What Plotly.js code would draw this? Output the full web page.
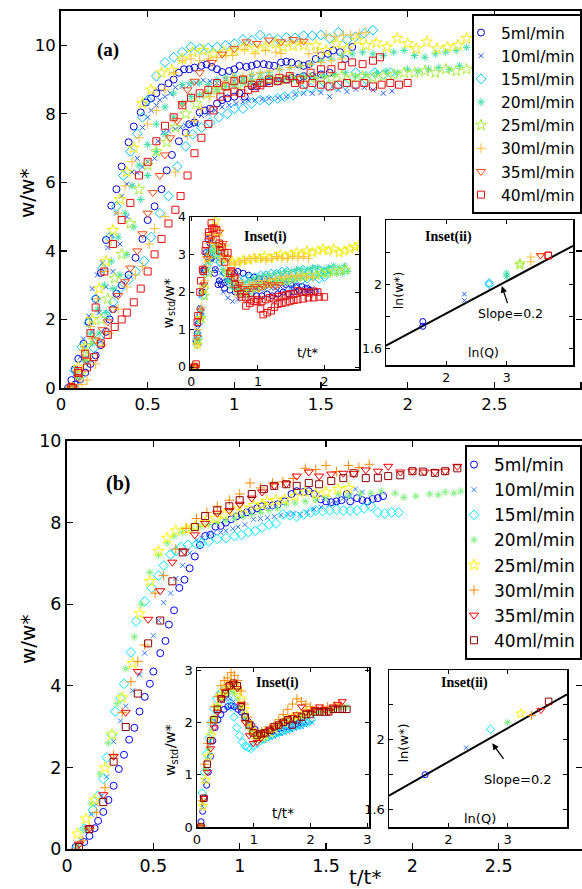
<!DOCTYPE html>
<html><head><meta charset="utf-8">
<script src="https://cdn.plot.ly/plotly-3.0.1.min.js"></script>
<style>html,body{margin:0;padding:0;background:#fff}#c{width:582px;height:889px}</style>
</head><body><div id="c"></div>
<script>
// ---------- categories ----------
const flowLabels = ['5ml/min','10ml/min','15ml/min','20ml/min','25ml/min','30ml/min','35ml/min','40ml/min'];
const lnQ = [1.61, 2.30, 2.71, 3.00, 3.22, 3.40, 3.56, 3.69];

// ---------- panel (a) main: t/t*, w/w* ----------
const a5_t = [0.04,0.06,0.08,0.10,0.13,0.16,0.20,0.23,0.26,0.29,0.32,0.35,0.39,0.42,0.46,0.49,0.52,0.55,0.58,0.62,0.65,0.68,0.71,0.74,0.77,0.81,0.84,0.87,0.90,0.93,0.97,1.00,1.03,1.07,1.10,1.13,1.17,1.20,1.23,1.27,1.30,1.33,1.37,1.40,1.43,1.47,1.50,1.54,1.57,1.61,1.64,1.68,
  0.05,0.08,0.11,0.14,0.17,0.20,0.23,0.26,0.28,0.30,0.32,0.35,0.39,0.43,0.47,0.50,0.54,0.58,0.61,0.64,0.68,0.72,0.74,0.77,0.80,0.83,0.86,0.90,0.93,0.96,1.00,1.03,1.06,1.10,1.13,1.17,1.20,1.25,1.30,1.33,1.37,1.40,1.45,1.50,1.55];
const a5_w = [0,0.23,0.55,0.85,1.29,1.93,2.6,3.36,4.32,5.32,5.8,6.46,7.17,7.63,8.04,8.33,8.45,8.6,8.77,8.89,9.0,9.2,9.3,9.3,9.35,9.4,9.44,9.37,9.3,9.22,9.25,9.3,9.4,9.37,9.4,9.45,9.45,9.42,9.4,9.5,9.52,9.5,9.45,9.4,9.45,9.6,9.7,9.75,9.85,9.8,9.6,9.95,
  0,0.1,0.25,0.45,0.7,0.95,1.25,1.64,2.0,2.3,2.75,3.0,3.3,3.8,4.35,4.9,5.3,5.8,6.35,6.8,7.2,7.45,7.7,7.75,8.04,8.1,8.15,8.3,8.4,8.45,8.5,8.6,8.5,8.8,8.8,8.9,8.95,8.95,9.0,9.05,9.05,9.1,9.1,9.15,9.2];
const a10_t = [0.05,0.08,0.11,0.13,0.16,0.18,0.21,0.24,0.27,0.29,0.32,0.35,0.38,0.41,0.44,0.47,0.50,0.52,0.55,0.57,0.60,0.63,0.66,0.70,0.74,0.78,0.82,0.86,0.90,0.95,1.00,1.05,1.10,1.15,1.20,1.25,1.30,1.35,1.40,1.45,1.50,
  0.06,0.10,0.14,0.18,0.22,0.26,0.30,0.34,0.38,0.41,0.44,0.47,0.50,0.54,0.56,0.59,0.62,0.66,0.69,0.72,0.75,0.78,0.81,0.85,0.89,0.93,0.97,1.01,1.05,1.08,1.12,1.16,1.20,1.25,1.30,1.35,1.40,1.45,1.50,1.55,1.60,1.65,1.70,1.75,1.80,1.86,1.91];
const a10_w = [0,0.4,0.9,1.43,2.1,2.9,3.3,3.65,4.1,4.44,5.1,5.6,5.95,6.3,6.7,7.6,7.9,8.1,8.25,8.4,8.5,8.6,8.77,8.8,8.85,8.9,8.98,8.95,8.9,9.0,8.95,9.0,9.05,9.0,9.05,9.0,9.05,9.1,9.05,9.1,9.1,
  0,0.3,0.8,1.64,2.2,2.95,3.4,4.2,5.0,5.9,6.28,6.45,6.6,6.7,7.2,7.46,7.5,7.55,7.6,7.65,7.7,7.7,7.95,8.0,8.1,8.2,8.25,8.3,8.35,8.4,8.4,8.42,8.45,8.46,8.5,8.56,8.6,8.6,8.62,8.5,8.7,8.65,8.72,8.77,8.7,8.6,8.66];
const a15_t = [0.05,0.08,0.12,0.16,0.20,0.24,0.28,0.32,0.36,0.40,0.44,0.47,0.50,0.55,0.60,0.65,0.70,0.75,0.80,0.85,0.90,0.95,1.00,1.05,1.10,1.15,1.20,1.25,1.30,1.35,1.40,1.45,1.50,1.55,1.60,1.65,1.70,1.75,1.80,
  0.06,0.10,0.15,0.19,0.22,0.26,0.30,0.34,0.39,0.43,0.48,0.52,0.57,0.62,0.67,0.72,0.76,0.81,0.86,0.91,0.96,1.00,1.05,1.10,1.15,1.20,1.25,1.29,1.34,1.39,1.44,1.49,1.54,1.59,1.64,1.70,1.76,1.81,1.86,1.90];
const a15_w = [0,0.5,1.2,1.9,2.6,3.5,4.4,5.3,6.2,6.9,7.42,7.9,8.4,9.1,9.5,9.65,9.8,9.95,9.9,9.92,9.95,10.0,10.05,10.17,10.15,10.3,10.2,10.18,10.23,10.22,10.28,10.28,10.3,10.2,10.38,10.15,10.25,10.35,10.44,
  0,0.4,0.8,1.17,1.46,2.13,2.5,2.9,3.16,3.4,3.7,4.4,5.1,5.6,6.46,7.05,7.4,7.6,7.75,7.9,8.0,8.15,8.15,8.3,8.4,8.4,8.45,8.5,8.55,8.7,8.75,8.78,8.8,8.8,8.85,9.2,9.0,9.2,9.15,9.2];
const a20_t = [0.05,0.09,0.13,0.17,0.21,0.25,0.29,0.33,0.37,0.41,0.45,0.50,0.55,0.60,0.65,0.70,0.75,0.80,0.85,0.90,0.95,1.00,1.05,1.10,1.15,1.20,1.26,1.32,1.38,1.44,1.50,1.56,1.62,1.68,1.74,1.80,1.86,1.92,1.98,2.04,2.10,2.16,2.22,2.28,2.34,
  0.06,0.10,0.14,0.18,0.22,0.26,0.30,0.34,0.38,0.42,0.46,0.50,0.55,0.60,0.65,0.70,0.75,0.80,0.85,0.90,0.95,1.00,1.05,1.10,1.16,1.22,1.28,1.34,1.40,1.46,1.52,1.58,1.64,1.70,1.76,1.82,1.88,1.94,2.00,2.06,2.12,2.18,2.24,2.30];
const a20_w = [0,0.5,1.1,1.6,2.3,3.0,3.7,4.4,5.1,5.9,6.5,7.1,7.7,8.2,8.6,8.86,8.9,8.9,8.85,9.0,9.05,9.1,9.05,9.15,9.17,9.2,9.3,9.35,9.4,9.45,9.55,9.6,9.7,9.75,9.8,9.75,9.7,9.8,9.85,9.7,9.65,9.75,9.8,9.85,9.94,
  0,0.3,0.8,1.3,1.6,2.2,2.9,3.3,3.9,4.7,5.5,6.2,6.9,7.4,7.9,8.3,8.5,8.55,8.6,8.7,8.8,8.85,8.9,8.95,9.0,9.05,9.0,9.05,9.1,9.05,9.1,9.15,9.2,9.1,9.15,9.2,9.25,9.2,9.3,9.25,9.3,9.35,9.3,9.4];
const a25y_t = [0.06,0.10,0.14,0.18,0.22,0.26,0.30,0.34,0.38,0.42,0.47,0.52,0.58,0.64,0.70,0.76,0.82,0.88,0.94,1.00,1.06,1.12,1.18,1.24,1.28,1.34,1.40,1.47,1.53,1.59,1.65,1.71,1.76,1.82,1.88,1.94,2.00,2.05,2.11,2.17,2.23,2.29,2.34];
const a25y_w = [0,0.6,1.2,2.0,2.9,3.7,4.6,5.5,6.3,7.0,8.3,8.7,9.2,9.27,9.6,9.8,9.85,9.75,9.8,9.85,9.95,9.9,9.95,10.05,9.95,9.98,10.0,10.0,9.85,10.05,9.9,10.15,10.0,10.07,9.95,10.2,10.05,9.9,10.1,9.9,9.95,10.0,10.2];
const a25g_t = [0.07,0.11,0.15,0.19,0.23,0.27,0.31,0.35,0.40,0.45,0.50,0.55,0.61,0.66,0.72,0.78,0.84,0.90,0.96,1.02,1.08,1.14,1.20,1.26,1.32,1.38,1.44,1.50,1.56,1.62,1.68,1.74,1.80,1.86,1.92,1.98,2.04,2.10,2.16,2.22,2.28,2.34];
const a25g_w = [0,0.4,0.9,1.4,2.0,2.6,3.2,3.9,4.8,5.8,6.5,6.9,7.17,7.6,8.0,8.3,8.56,8.7,8.8,8.85,8.9,8.95,9.0,9.0,9.05,9.0,9.05,9.0,9.05,9.1,9.05,9.1,9.05,9.1,9.15,9.2,9.2,9.25,9.2,9.3,9.25,9.3];
const a30_t = [0.05,0.09,0.13,0.17,0.21,0.25,0.29,0.33,0.37,0.41,0.45,0.50,0.55,0.60,0.65,0.70,0.75,0.80,0.85,0.90,0.95,0.99,1.06,1.12,1.18,1.24,1.27,1.32,1.38,1.43,1.48,1.53,1.58,1.63,1.67,1.72,1.76,
  0.08,0.12,0.15,0.20,0.24,0.28,0.33,0.38,0.43,0.47,0.51,0.54,0.60,0.66,0.73,0.77,0.81,0.86,0.90,0.95,0.99,1.05,1.10,1.15,1.20,1.26,1.32,1.38,1.44,1.50,1.56,1.62];
const a30_w = [0,0.5,1.1,1.8,2.6,3.4,4.3,5.1,5.9,6.6,7.3,7.7,8.1,8.7,9.2,9.56,9.6,9.55,9.6,9.65,9.7,9.7,9.88,9.75,9.85,9.8,9.76,10.1,10.1,9.75,9.8,10.3,10.25,10.3,10.3,10.35,10.38,
  0,0.1,0.23,0.7,1.25,1.6,2.3,2.95,3.3,3.55,4.2,4.65,5.0,6.3,7.37,7.8,8.15,8.5,8.8,8.95,9.07,9.1,9.15,9.2,9.25,9.3,9.35,9.4,9.45,9.5,9.55,9.6];
const a35_t = [0.06,0.10,0.15,0.20,0.24,0.27,0.30,0.33,0.37,0.40,0.44,0.47,0.50,0.53,0.57,0.60,0.63,0.67,0.70,0.73,0.77,0.80,0.87,0.93,1.00,1.07,1.13,1.20,1.27,1.34,1.40];
const a35_w = [0,0.3,0.8,1.4,1.7,1.93,2.3,2.7,3.1,3.5,4.0,4.5,5.1,5.7,6.2,6.8,7.3,7.8,8.3,8.7,8.95,9.2,9.5,9.74,9.9,10.1,10.05,10.15,10.1,10.17,10.12];
const a40_t = [0.06,0.10,0.14,0.17,0.20,0.25,0.30,0.35,0.40,0.45,0.50,0.55,0.60,0.65,0.70,0.75,0.80,0.85,0.90,0.95,1.00,1.05,1.10,1.15,1.20,1.26,1.32,1.38,1.44,1.50,1.56,1.62,1.68,1.74,1.80,1.84,
  0.07,0.10,0.15,0.19,0.23,0.27,0.31,0.35,0.38,0.42,0.46,0.50,0.54,0.58,0.62,0.66,0.69,0.73,0.77,0.81,0.85,0.88,0.92,0.96,1.00,1.04,1.08,1.12,1.15,1.20,1.25,1.30,1.35,1.40,1.45,1.50,1.55,1.60,1.65,1.70,1.75,1.80,1.85,1.90,1.95,2.00];
const a40_w = [0.03,0.5,1.0,1.6,2.35,3.4,4.2,4.9,5.4,6.2,6.6,7.2,7.65,7.9,8.25,8.47,8.6,8.7,8.9,8.8,8.95,9.0,8.85,8.9,9.0,9.05,9.1,9.0,9.2,9.3,9.3,9.4,9.5,9.45,9.55,9.65,
  0,0.44,0.6,0.9,1.3,1.55,1.78,2.0,2.2,2.5,2.9,3.4,3.9,4.35,4.8,5.2,5.6,6.2,6.85,7.3,7.7,8.1,8.5,8.6,8.65,8.6,8.7,8.75,8.83,8.9,8.95,9.0,8.9,8.85,8.9,8.85,8.8,8.85,8.9,8.85,8.9,8.8,8.85,8.9,8.85,8.9];

// ---------- panel (a) inset (i): t/t*, w_std/w* ----------
const ai5_t = [0.04,0.07,0.10,0.13,0.16,0.19,0.22,0.25,0.28,0.31,0.35,0.40,0.45,0.50,0.55,0.60,0.65,0.70,0.78,0.86,0.94,1.02,1.10,1.18,1.26,1.34,1.42,1.50,1.58,1.66,1.74,
  0.05,0.09,0.13,0.17,0.21,0.25,0.30,0.36,0.42,0.50,0.58,0.66,0.74,0.82,0.90,0.98,1.06,1.14,1.22,1.30,1.38,1.46,1.54,1.62,1.70,1.78,1.86];
const ai5_w = [0,0.7,1.15,1.55,2.0,2.6,3.05,3.4,3.3,3.0,2.5,2.2,2.2,2.25,2.3,2.4,2.5,2.55,2.5,2.45,2.4,2.35,2.35,2.3,2.25,2.25,2.2,2.2,2.15,2.15,2.1,
  0,0.9,1.4,2.0,2.6,3.0,2.9,2.6,2.3,2.1,2.05,2.0,2.0,1.95,1.95,1.9,1.9,1.95,1.9,1.95,2.0,1.95,2.0,2.05,2.0,2.05,2.0];
const ai10_t = [0.05,0.09,0.13,0.17,0.21,0.26,0.31,0.36,0.42,0.48,0.55,0.62,0.70,0.78,0.86,0.94,1.02,1.10,1.18,1.26,1.34,1.42,1.50,1.58,1.66,1.74,1.82,1.90,
  0.06,0.10,0.14,0.19,0.24,0.30,0.37,0.45,0.53,0.61,0.70,0.80,0.90,1.00,1.10,1.20,1.30,1.40,1.50,1.60,1.70,1.80];
const ai10_w = [0,1.0,1.6,2.2,2.7,2.9,2.85,2.6,2.3,2.0,1.85,1.75,1.8,1.9,2.0,2.05,2.1,2.1,2.15,2.1,2.15,2.2,2.15,2.2,2.1,2.15,2.1,2.05,
  0,1.2,1.9,2.5,2.9,3.1,2.9,2.5,2.3,2.2,2.15,2.1,2.1,2.1,2.05,2.1,2.05,2.05,2.1,2.0,2.0,2.05];
const ai15_t = [0.05,0.09,0.13,0.17,0.21,0.26,0.31,0.37,0.43,0.50,0.57,0.64,0.72,0.80,0.88,0.96,1.04,1.12,1.20,1.28,1.36,1.44,1.52,1.60,1.68,1.76,1.84,1.92,2.00,2.08,
  0.06,0.10,0.14,0.19,0.24,0.30,0.36,0.43,0.50,0.58,0.66,0.75,0.84,0.93,1.02,1.11,1.20,1.29,1.38,1.47,1.56,1.65,1.74,1.83,1.92,2.00];
const ai15_w = [0,0.6,1.2,1.9,2.5,3.0,3.2,3.0,2.8,2.5,2.3,2.25,2.3,2.35,2.4,2.4,2.45,2.45,2.5,2.5,2.55,2.55,2.5,2.55,2.6,2.55,2.6,2.6,2.55,2.6,
  0,0.8,1.4,2.1,2.7,3.1,3.1,2.8,2.5,2.2,2.1,2.1,2.15,2.2,2.25,2.25,2.3,2.3,2.35,2.3,2.35,2.3,2.35,2.4,2.35,2.4];
const ai20_t = [0.05,0.09,0.13,0.18,0.23,0.28,0.34,0.40,0.47,0.54,0.62,0.70,0.78,0.86,0.94,1.02,1.10,1.18,1.26,1.34,1.42,1.50,1.58,1.66,1.74,1.82,1.90,1.98,2.06,2.14,2.22,2.30,
  0.06,0.10,0.15,0.20,0.26,0.33,0.40,0.48,0.56,0.65,0.74,0.83,0.92,1.01,1.10,1.19,1.28,1.37,1.46,1.55,1.64,1.73,1.82,1.91,2.00,2.09,2.18,2.27,2.35];
const ai20_w = [0,0.7,1.3,2.0,2.6,3.1,3.3,3.1,2.8,2.5,2.3,2.2,2.25,2.3,2.35,2.4,2.45,2.45,2.5,2.5,2.55,2.55,2.6,2.6,2.6,2.65,2.65,2.6,2.65,2.7,2.65,2.7,
  0,0.9,1.5,2.2,2.8,3.2,3.0,2.6,2.3,2.1,2.05,2.1,2.15,2.2,2.2,2.25,2.3,2.3,2.35,2.35,2.4,2.4,2.4,2.45,2.45,2.5,2.5,2.5,2.55];
const ai25y_t = [0.05,0.09,0.14,0.19,0.24,0.30,0.36,0.42,0.48,0.55,0.62,0.70,0.78,0.86,0.94,1.02,1.10,1.18,1.26,1.34,1.42,1.50,1.58,1.66,1.74,1.82,1.90,1.98,2.06,2.14,2.22,2.30,2.38,2.46,2.52];
const ai25y_w = [0,0.6,1.3,2.1,2.9,3.5,3.9,3.6,3.2,2.9,2.8,2.8,2.85,2.85,2.9,2.9,2.95,2.9,2.95,3.0,2.95,3.0,3.05,3.0,3.1,3.05,3.1,3.15,3.1,3.15,3.05,3.1,3.15,3.2,3.25];
const ai25g_t = [0.06,0.10,0.15,0.20,0.26,0.32,0.39,0.46,0.54,0.62,0.70,0.79,0.88,0.97,1.06,1.15,1.24,1.33,1.42,1.51,1.60,1.69,1.78,1.87,1.96,2.05,2.14,2.23,2.32];
const ai25g_w = [0,0.7,1.3,1.9,2.5,3.0,3.2,2.9,2.5,2.2,2.0,1.95,2.0,2.1,2.15,2.2,2.25,2.3,2.3,2.35,2.4,2.4,2.45,2.45,2.5,2.5,2.55,2.55,2.6];
const ai30_t = [0.05,0.09,0.13,0.17,0.22,0.27,0.32,0.38,0.44,0.50,0.57,0.64,0.72,0.80,0.88,0.96,1.04,1.12,1.20,1.28,1.36,1.44,1.52,1.60,1.68,1.76,
  0.06,0.10,0.15,0.20,0.26,0.32,0.39,0.46,0.54,0.62,0.70,0.78,0.86,0.94,1.02,1.10,1.18,1.26,1.34,1.42,1.50,1.58,1.66,1.74,1.82];
const ai30_w = [0,0.6,1.3,2.0,2.7,3.3,3.7,3.5,3.2,3.0,2.8,2.75,2.8,2.85,2.9,2.9,2.9,2.85,2.9,2.95,2.9,2.9,2.95,2.9,2.95,2.9,
  0,1.0,1.6,2.3,2.9,3.3,3.2,2.9,2.6,2.4,2.3,2.2,2.2,2.25,2.3,2.3,2.35,2.35,2.4,2.4,2.45,2.4,2.45,2.4,2.4];
const ai35_t = [0.05,0.09,0.14,0.19,0.24,0.30,0.36,0.42,0.48,0.54,0.60,0.66,0.72,0.78,0.84,0.90,0.96,1.02,1.08,1.14,1.20,1.26,1.32];
const ai35_w = [0,0.8,1.5,2.2,2.9,3.4,3.7,3.6,3.3,2.9,2.6,2.4,2.2,2.1,2.05,2.1,2.15,2.1,2.15,2.2,2.2,2.15,2.2];
const ai40_t = [0.04,0.07,0.10,0.14,0.18,0.22,0.26,0.30,0.34,0.38,0.42,0.46,0.50,0.55,0.60,0.65,0.70,0.76,0.82,0.88,0.94,1.00,1.06,1.12,1.18,1.24,1.30,1.36,1.42,1.48,1.54,1.60,1.66,1.72,1.78,1.84,1.90,
  0.05,0.09,0.13,0.17,0.21,0.26,0.31,0.37,0.43,0.50,0.58,0.66,0.74,0.82,0.90,0.98,1.04,1.08,1.14,1.20,1.25,1.30,1.36,1.42,1.48,1.54,1.60,1.68,1.76,1.84,1.92,2.00];
const ai40_w = [0,0.08,1.37,2.3,2.55,3.26,3.6,3.84,3.7,3.66,3.3,3.2,3.05,3.05,2.55,2.39,2.1,1.87,1.63,1.7,1.75,1.8,1.75,1.8,1.85,1.82,1.88,1.9,1.92,1.95,1.95,2.03,2.0,2.0,1.98,2.02,2.0,
  0,1.2,2.0,2.6,3.1,3.5,3.7,3.4,3.1,2.8,2.5,2.2,1.95,1.85,1.8,1.75,1.55,1.4,1.45,1.5,1.6,1.68,1.7,1.72,1.75,1.78,1.8,1.82,1.85,1.85,1.87,1.87];

// ---------- panel (a) inset (ii): ln(Q), ln(w*) (two runs) ----------
const aii_lnw = [[1.77,1.74],[1.94,1.90],[2.01,2.00],[2.07,2.05],[2.13,2.12],[2.17,2.14],[2.18,2.18],[2.18,2.18]];
const aiiFit_x = [1.0, 4.1];
const aiiFit_y = [1.62, 2.24];

// ---------- panel (b) main ----------
const b5_t = [0.05,0.10,0.13,0.16,0.18,0.21,0.24,0.27,0.30,0.33,0.36,0.39,0.42,0.45,0.48,0.50,0.54,0.57,0.59,0.62,0.65,0.68,0.71,0.74,0.77,0.80,0.83,0.86,0.89,0.92,0.95,0.98,1.01,1.04,1.07,1.10,1.13,1.16,1.19,1.22,1.26,1.30,1.33,1.37,1.40,1.43,1.47,1.50,1.53,1.56,1.59,1.62,1.64,1.68,1.71,1.74,1.77,1.80,1.83];
const b5_w = [0.05,0.17,0.32,0.51,0.69,0.91,1.2,1.55,1.96,2.31,2.68,2.97,3.37,3.73,4.05,4.35,4.8,5.1,5.5,5.85,6.4,6.6,6.88,7.17,7.45,7.67,7.7,7.9,7.92,8.0,8.08,8.15,8.2,8.25,8.3,8.35,8.4,8.42,8.42,8.45,8.52,8.7,8.77,8.75,8.77,8.7,8.57,8.52,8.5,8.52,8.55,8.7,8.52,8.6,8.55,8.52,8.58,8.6,8.65];
const b10_t = [0.05,0.08,0.11,0.14,0.17,0.20,0.23,0.27,0.31,0.34,0.38,0.42,0.45,0.50,0.53,0.56,0.60,0.63,0.67,0.71,0.75,0.78,0.82,0.85,0.89,0.92,0.96,0.99,1.03,1.08,1.12,1.16,1.20,1.24,1.28,1.31,1.35,1.39,1.43,1.47,1.52,1.56,1.60,1.64,1.67,1.71];
const b10_w = [0,0.22,0.5,0.85,1.1,1.3,1.77,2.63,3.14,3.5,3.88,4.27,4.8,5.23,5.6,6.04,6.27,6.63,6.95,7.25,7.57,7.62,7.72,7.75,7.76,7.8,7.85,7.89,7.95,8.08,8.1,8.12,8.15,8.18,8.2,8.23,8.2,8.25,8.33,8.38,8.45,8.5,8.6,8.65,8.82,8.75];
const b15_t = [0.05,0.10,0.15,0.18,0.21,0.23,0.26,0.28,0.31,0.33,0.37,0.40,0.45,0.49,0.53,0.56,0.60,0.63,0.66,0.70,0.75,0.78,0.82,0.87,0.92,0.97,1.01,1.05,1.09,1.13,1.17,1.21,1.25,1.29,1.33,1.37,1.41,1.44,1.48,1.52,1.56,1.60,1.64,1.68,1.72,1.76,1.80,1.84,1.88,1.92];
const b15_w = [0,0.5,0.96,1.3,1.72,2.24,2.8,3.37,3.7,4.05,4.82,5.58,6.07,6.4,6.7,6.95,7.22,7.3,7.4,7.45,7.47,7.5,7.54,7.6,7.62,7.67,7.7,7.77,7.8,7.88,7.95,7.98,8.2,8.18,8.15,8.2,8.25,8.3,8.28,8.3,8.32,8.3,8.3,8.3,8.35,8.4,8.25,8.22,8.25,8.25];
const b20_t = [0.06,0.10,0.14,0.19,0.24,0.29,0.34,0.39,0.43,0.48,0.53,0.58,0.62,0.67,0.72,0.77,0.82,0.87,0.92,0.97,1.02,1.07,1.12,1.17,1.22,1.27,1.32,1.38,1.44,1.50,1.57,1.63,1.70,1.76,1.82,1.90,1.95,2.02,2.10,2.15,2.19,2.24,2.28];
const b20_w = [0.1,0.5,1.1,1.84,2.6,3.56,4.42,5.2,6.0,6.78,7.2,7.5,7.67,7.76,7.85,7.9,7.95,8.0,8.05,8.1,8.15,8.2,8.25,8.3,8.35,8.45,8.48,8.52,8.55,8.6,8.7,8.65,8.7,8.72,8.77,8.72,8.62,8.65,8.7,8.68,8.75,8.72,8.77];
const b25_t = [0.06,0.11,0.16,0.22,0.26,0.32,0.38,0.42,0.48,0.53,0.58,0.63,0.69,0.74,0.80,0.86,0.91,0.97,1.02,1.08,1.13,1.16,1.21,1.26,1.32,1.38,1.44,1.50,1.57,1.63];
const b25_w = [0.37,0.74,1.2,1.99,2.8,3.71,4.55,5.77,6.56,7.3,7.62,7.8,7.84,7.9,8.0,8.1,8.2,8.28,8.35,8.42,8.45,8.52,8.55,8.57,8.65,8.75,8.7,8.75,8.82,8.84];
const b30_t = [0.05,0.09,0.13,0.17,0.22,0.27,0.32,0.37,0.41,0.45,0.51,0.56,0.63,0.69,0.75,0.81,0.87,0.94,1.00,1.06,1.12,1.19,1.25,1.31,1.38,1.44,1.50,1.56,1.63,1.69,1.75];
const b30_w = [0,0.2,0.5,0.9,1.5,2.3,3.35,4.1,4.6,5.0,6.27,6.7,7.35,7.86,8.1,8.25,8.4,8.55,8.7,8.97,8.85,8.97,9.0,9.08,9.33,9.3,9.4,9.25,9.4,9.35,9.43];
const b35_t = [0.07,0.13,0.21,0.27,0.34,0.41,0.47,0.54,0.61,0.68,0.74,0.80,0.87,0.94,1.00,1.07,1.13,1.20,1.27,1.33,1.40,1.46,1.53,1.60,1.66,1.73,1.80,1.86,1.93,2.00,2.07,2.13,2.19,2.26];
const b35_w = [0.12,0.51,1.33,2.27,3.35,4.35,5.63,6.33,7.03,7.3,7.7,7.98,8.23,8.3,8.45,8.6,8.75,8.9,8.95,9.14,9.24,9.14,9.19,9.21,9.2,9.29,9.26,9.38,9.24,9.26,9.24,9.24,9.26,9.38];
const b40_t = [0.07,0.13,0.21,0.27,0.34,0.41,0.47,0.54,0.61,0.67,0.74,0.80,0.87,0.94,1.00,1.07,1.14,1.20,1.27,1.33,1.40,1.46,1.53,1.60,1.66,1.73,1.80,1.86,1.93,2.00,2.06,2.13,2.19,2.26];
const b40_w = [0.05,0.49,1.15,2.14,2.99,3.81,5.04,5.6,6.56,7.27,7.89,8.16,8.3,8.4,8.55,8.7,8.82,8.9,8.94,8.9,8.97,8.94,9.02,9.09,9.21,9.09,9.1,9.14,9.16,9.26,9.25,9.22,9.26,9.33];

// ---------- panel (b) inset (i) ----------
const bi5_t = [0.04,0.07,0.10,0.13,0.17,0.20,0.24,0.28,0.32,0.37,0.42,0.48,0.54,0.60,0.66,0.72,0.78,0.84,0.90,0.96,1.02,1.08,1.14,1.20,1.26,1.32,1.38,1.44,1.50,1.56,1.62,1.68,1.74,1.80,1.86];
const bi5_w = [0,0.1,0.3,0.55,0.8,1.05,1.35,1.65,1.9,2.05,2.15,2.25,2.3,2.32,2.3,2.25,2.2,2.12,2.02,1.95,1.87,1.8,1.78,1.78,1.8,1.82,1.85,1.88,1.9,1.92,1.92,1.95,1.97,2.0,2.0];
const bi10_t = [0.05,0.09,0.13,0.17,0.21,0.25,0.30,0.35,0.40,0.46,0.52,0.58,0.64,0.70,0.76,0.82,0.88,0.94,1.00,1.06,1.12,1.18,1.24,1.30,1.36,1.42,1.48,1.54,1.60,1.66,1.72,1.78,1.84,1.90,1.96,2.02];
const bi10_w = [0,0.4,0.9,1.3,1.6,1.85,2.05,2.2,2.3,2.4,2.45,2.45,2.4,2.3,2.2,2.05,1.9,1.8,1.72,1.68,1.65,1.65,1.68,1.7,1.72,1.75,1.78,1.8,1.82,1.85,1.88,1.9,1.92,1.95,1.97,2.0];
const bi15_t = [0.05,0.09,0.13,0.17,0.21,0.25,0.30,0.35,0.40,0.45,0.50,0.55,0.60,0.65,0.70,0.75,0.80,0.85,0.90,0.95,1.00,1.06,1.12,1.18,1.24,1.30,1.36,1.42,1.48,1.54,1.60,1.66,1.72,1.78,1.84,1.90,1.96,2.02];
const bi15_w = [0,0.65,1.05,1.4,1.7,2.0,2.25,2.45,2.55,2.6,2.55,2.45,2.3,2.1,1.9,1.75,1.62,1.55,1.52,1.5,1.55,1.6,1.65,1.68,1.72,1.75,1.78,1.8,1.82,1.85,1.88,1.9,1.92,1.95,1.95,2.0,2.0,2.05];
const bi20_t = [0.06,0.10,0.15,0.20,0.25,0.30,0.36,0.42,0.48,0.54,0.60,0.66,0.72,0.78,0.84,0.90,0.96,1.02,1.08,1.14,1.20,1.28,1.36,1.44,1.52,1.60,1.68,1.76,1.84,1.92,2.00,2.08,2.16,2.24,2.32,2.40,2.48,2.56,2.64];
const bi20_w = [0,0.5,1.1,1.5,1.85,2.1,2.3,2.45,2.55,2.6,2.6,2.55,2.45,2.3,2.1,1.95,1.82,1.75,1.72,1.75,1.8,1.85,1.9,1.95,2.0,2.05,2.08,2.1,2.12,2.15,2.18,2.2,2.2,2.22,2.25,2.25,2.28,2.3,2.3];
const bi25_t = [0.06,0.10,0.15,0.20,0.25,0.30,0.36,0.42,0.48,0.54,0.60,0.66,0.72,0.78,0.84,0.90,0.96,1.02,1.08,1.14,1.20,1.28,1.36,1.44,1.52,1.60,1.68,1.76,1.84,1.92,2.00];
const bi25_w = [0,0.4,0.9,1.35,1.75,2.05,2.3,2.5,2.6,2.7,2.75,2.7,2.6,2.45,2.25,2.0,1.85,1.75,1.7,1.72,1.75,1.8,1.88,1.95,2.0,2.05,2.1,2.12,2.15,2.2,2.2];
const bi30_t = [0.05,0.09,0.14,0.19,0.24,0.30,0.36,0.42,0.48,0.54,0.60,0.66,0.72,0.78,0.84,0.90,0.96,1.02,1.08,1.14,1.20,1.28,1.36,1.44,1.52,1.60,1.68,1.76,1.84,1.92,2.00,2.10,2.20,2.30,2.40,2.50];
const bi30_w = [0,0.5,1.2,1.6,2.0,2.3,2.5,2.7,2.8,2.85,2.95,2.9,2.8,2.6,2.35,2.1,1.95,1.85,1.8,1.82,1.85,1.9,1.95,2.05,2.15,2.25,2.35,2.45,2.4,2.35,2.3,2.25,2.25,2.3,2.3,2.35];
const bi35_t = [0.07,0.12,0.18,0.24,0.30,0.36,0.43,0.50,0.57,0.64,0.71,0.78,0.85,0.92,0.99,1.06,1.13,1.20,1.28,1.36,1.44,1.52,1.60,1.68,1.76,1.84,1.92,2.00,2.08,2.16,2.24,2.32,2.40,2.48,2.56];
const bi35_w = [0,0.55,1.05,1.5,1.9,2.2,2.45,2.6,2.7,2.75,2.65,2.35,2.0,1.75,1.6,1.62,1.7,1.78,1.85,1.9,1.95,2.0,2.05,2.1,2.15,2.3,2.2,2.2,2.25,2.3,2.25,2.2,2.3,2.35,2.4];
const bi40_t = [0.07,0.12,0.18,0.24,0.30,0.36,0.43,0.50,0.57,0.64,0.71,0.78,0.85,0.92,0.99,1.06,1.13,1.20,1.28,1.36,1.44,1.52,1.60,1.68,1.76,1.84,1.92,2.00,2.08,2.16,2.24,2.32,2.40,2.48,2.56,2.64];
const bi40_w = [0,0.55,1.2,1.65,2.05,2.25,2.45,2.55,2.7,2.75,2.7,2.3,2.1,1.95,1.8,1.75,1.78,1.8,1.85,1.92,1.95,2.0,2.05,1.95,2.05,2.1,2.15,2.15,2.2,2.2,2.2,2.2,2.25,2.25,2.25,2.25];

// ---------- panel (b) inset (ii) ----------
const bii_lnw = [1.80, 1.955, 2.06, 2.10, 2.15, 2.14, 2.17, 2.22];
const biiFit_x = [1.0, 4.0];
const biiFit_y = [1.68, 2.26];

// ---------- styles ----------
const symbols = ['circle-open','x-thin-open','diamond-open','asterisk-open','star-open','cross-thin-open','triangle-down-open','square-open'];
const sizesMain = [7,5,7.5,6.5,8.5,7,8,7];
const sizesIn = [6,4.5,6.5,6,7.5,6.5,7,6.5];
const colA = ['#0000d0','#1f5cff','#00c4ff','#3fe0a6','#a8ee3c','#ffbd3a','#ff4a14','#e01010'];
const colA25yellow = '#f0ee00';
const colB = ['#0000ff','#2f7bff','#00f0ff','#80f080','#ffff00','#ff8a00','#ff0000','#8b0000'];

function pts(x, y, xa, ya, i, col, sizes, name, leg, showleg) {
  return {type:'scatter', mode:'markers', x:x, y:y, xaxis:xa, yaxis:ya, name:name,
    legend:leg, showlegend:showleg, cliponaxis:true, hoverinfo:'skip',
    marker:{symbol:symbols[i], size:sizes[i], color:col, line:{color:col, width:1}}};
}

const aMainT = [a5_t,a10_t,a15_t,a20_t,a25g_t,a30_t,a35_t,a40_t];
const aMainW = [a5_w,a10_w,a15_w,a20_w,a25g_w,a30_w,a35_w,a40_w];
const aInT = [ai5_t,ai10_t,ai15_t,ai20_t,ai25g_t,ai30_t,ai35_t,ai40_t];
const aInW = [ai5_w,ai10_w,ai15_w,ai20_w,ai25g_w,ai30_w,ai35_w,ai40_w];
const bMainT = [b5_t,b10_t,b15_t,b20_t,b25_t,b30_t,b35_t,b40_t];
const bMainW = [b5_w,b10_w,b15_w,b20_w,b25_w,b30_w,b35_w,b40_w];
const bInT = [bi5_t,bi10_t,bi15_t,bi20_t,bi25_t,bi30_t,bi35_t,bi40_t];
const bInW = [bi5_w,bi10_w,bi15_w,bi20_w,bi25_w,bi30_w,bi35_w,bi40_w];

const traces = [];
for (let i=0;i<8;i++) {
  if (i===4) traces.push(pts(a25y_t, a25y_w, 'x','y',4,colA25yellow,sizesMain,'25ml/min (run 2)','legend',false));
  traces.push(pts(aMainT[i], aMainW[i], 'x','y',i,colA[i],sizesMain,flowLabels[i],'legend',true));
}
for (let i=0;i<8;i++) traces.push(pts(bMainT[i], bMainW[i], 'x2','y2',i,colB[i],sizesMain,flowLabels[i],'legend2',true));
for (let i=0;i<8;i++) {
  if (i===4) traces.push(pts(ai25y_t, ai25y_w, 'x3','y3',4,colA25yellow,sizesIn,'25ml/min (run 2)','legend',false));
  traces.push(pts(aInT[i], aInW[i], 'x3','y3',i,colA[i],sizesIn,flowLabels[i],'legend',false));
}
traces.push({type:'scatter',mode:'lines',x:aiiFit_x,y:aiiFit_y,xaxis:'x4',yaxis:'y4',showlegend:false,hoverinfo:'skip',line:{color:'#000',width:2}});
for (let i=0;i<8;i++) traces.push(pts([lnQ[i],lnQ[i]], aii_lnw[i], 'x4','y4',i,colA[i],sizesIn,flowLabels[i],'legend',false));
for (let i=0;i<8;i++) traces.push(pts(bInT[i], bInW[i], 'x5','y5',i,colB[i],sizesIn,flowLabels[i],'legend2',false));
traces.push({type:'scatter',mode:'lines',x:biiFit_x,y:biiFit_y,xaxis:'x6',yaxis:'y6',showlegend:false,hoverinfo:'skip',line:{color:'#000',width:2}});
for (let i=0;i<8;i++) traces.push(pts([lnQ[i]], [bii_lnw[i]], 'x6','y6',i,colB[i],sizesIn,flowLabels[i],'legend2',false));

const W=582, H=889;
const fx = p => p/W, fy = p => 1 - p/H;
const sans = 'DejaVu Sans, sans-serif';
const serif = 'Liberation Serif, Times New Roman, serif';

function mainAx(dom, range, tv, fs, anchor) {
  return {domain:dom, range:range, tickvals:tv, ticks:'inside', ticklen:6, tickwidth:1.2,
    tickcolor:'#000', showline:true, linecolor:'#000', linewidth:2, mirror:'ticks', showgrid:false, zeroline:false,
    tickfont:{family:sans, size:fs, color:'#000'}, anchor:anchor, fixedrange:true};
}
function inAx(dom, range, tv, fs, anchor, minorVals) {
  const ax = {domain:dom, range:range, tickvals:tv, ticks:'inside', ticklen:4, tickwidth:1,
    tickcolor:'#000', showline:true, linecolor:'#000', linewidth:1.5, mirror:'ticks', showgrid:false, zeroline:false,
    tickfont:{family:sans, size:fs, color:'#000'}, anchor:anchor, fixedrange:true};
  if (minorVals) ax.minor = {tickvals:minorVals, ticks:'inside', ticklen:4, tickwidth:1, tickcolor:'#000', showgrid:false};
  return ax;
}
function pa(x, y, text, font, extra) {
  return Object.assign({xref:'paper', yref:'paper', x:fx(x), y:fy(y), xanchor:'center', yanchor:'middle',
    text:text, showarrow:false, font:font}, extra||{});
}
function da(ax, x, y, text, font, extra) {
  return Object.assign({xref:'x'+ax, yref:'y'+ax, x:x, y:y, xanchor:'center', yanchor:'middle',
    text:text, showarrow:false, font:font}, extra||{});
}
const F = (fam, s) => ({family:fam, size:s, color:'#000'});
const R = {textangle:-90};

const layout = {
  width:W, height:H, margin:{l:0,r:0,t:0,b:0}, paper_bgcolor:'#fff', plot_bgcolor:'#fff',
  showlegend:true,
  xaxis: mainAx([fx(61),1],[0,3.006],[0,0.5,1,1.5,2,2.5,3],16.5,'y'),
  yaxis: mainAx([fy(388),fy(11)],[0,11],[0,2,4,6,8,10],16.5,'x'),
  xaxis2: mainAx([fx(67),1],[0,2.982],[0,0.5,1,1.5,2,2.5],17.5,'y2'),
  yaxis2: mainAx([fy(849),fy(441)],[0,10],[0,2,4,6,8,10],17.5,'x2'),
  xaxis3: inAx([fx(190),fx(359)],[-0.02,2.52],[0,1,2],12.5,'y3'),
  yaxis3: inAx([fy(369),fy(217)],[-0.05,4.0],[0,1,2,3,4],12.5,'x3'),
  xaxis4: inAx([fx(386),fx(573)],[1,4.1],[2,3],12.5,'y4'),
  yaxis4: inAx([fy(365),fy(220)],[1.5,2.4],[1.6,2],12.5,'x4',[1.8,2.2]),
  xaxis5: inAx([fx(197),fx(369)],[0,3.03],[0,1,2,3],13,'y5'),
  yaxis5: inAx([fy(827),fy(668)],[0,3.04],[0,1,2,3],13,'x5'),
  xaxis6: inAx([fx(389),fx(567)],[1,4],[2,3],13,'y6'),
  yaxis6: inAx([fy(827),fy(670)],[1.5,2.4],[1.6,2],13,'x6',[1.8,2.2]),
  legend: {x:1, xanchor:'right', y:fy(14), yanchor:'top', bgcolor:'#fff', bordercolor:'#000', borderwidth:2,
    font:F(sans,15.5), itemwidth:30, tracegroupgap:0, indentation:-13},
  legend2: {x:1, xanchor:'right', y:fy(445), yanchor:'top', bgcolor:'#fff', bordercolor:'#000', borderwidth:2,
    font:F(sans,17), itemwidth:30, tracegroupgap:0, indentation:-13},
  annotations: [
    pa(108, 50, '<b>(a)</b>', F(serif,19)),
    pa(118, 483, '<b>(b)</b>', F(serif,20)),
    pa(27, 194, 'w/w*', F(sans,20), R),
    pa(28, 640, 'w/w*', F(sans,20), R),
    pa(365, 877, 't/t*', F(sans,20)),
    // inset a(i)
    da(3, 1.11, 3.47, '<b>Inset(i)</b>', F(serif,14)),
    da(3, 1.75, 0.38, 't/t*', F(sans,13)),
    pa(168, 322.3, 'w', F(sans,14), R),
    pa(172, 308.9, 'std', F(sans,9.8), R),
    pa(168, 289.5, '/w*', F(sans,14), R),
    // inset a(ii)
    da(4, 2.03, 2.295, '<b>Inset(ii)</b>', F(serif,14)),
    da(4, 2.61, 1.58, 'ln(Q)', F(sans,12.5)),
    da(4, 1.2, 1.965, 'ln(w*)', F(sans,12.5), R),
    da(4, 2.92, 1.99, 'Slope=0.2', F(sans,12.5), {showarrow:true, ax:9, ay:27, arrowhead:2, arrowsize:1, arrowwidth:1.3, arrowcolor:'#000', startstandoff:1}),
    // inset b(i)
    da(5, 1.42, 2.75, '<b>Inset(i)</b>', F(serif,14)),
    da(5, 1.51, 0.27, 't/t*', F(sans,13.5)),
    pa(170, 769.9, 'w', F(sans,14.5), R),
    pa(174.3, 756.1, 'std', F(sans,10.15), R),
    pa(170, 736.2, '/w*', F(sans,14.5), R),
    // inset b(ii)
    da(6, 2.28, 2.325, '<b>Inset(ii)</b>', F(serif,14)),
    da(6, 2.53, 1.55, 'ln(Q)', F(sans,13)),
    da(6, 1.24, 1.98, 'ln(w*)', F(sans,13), R),
    da(6, 2.74, 1.98, 'Slope=0.2', F(sans,13), {showarrow:true, ax:26, ay:36, arrowhead:2, arrowsize:1, arrowwidth:1.3, arrowcolor:'#000', startstandoff:14})
  ]
};

Plotly.newPlot('c', traces, layout, {staticPlot:true, displayModeBar:false});
</script>
</body></html>
